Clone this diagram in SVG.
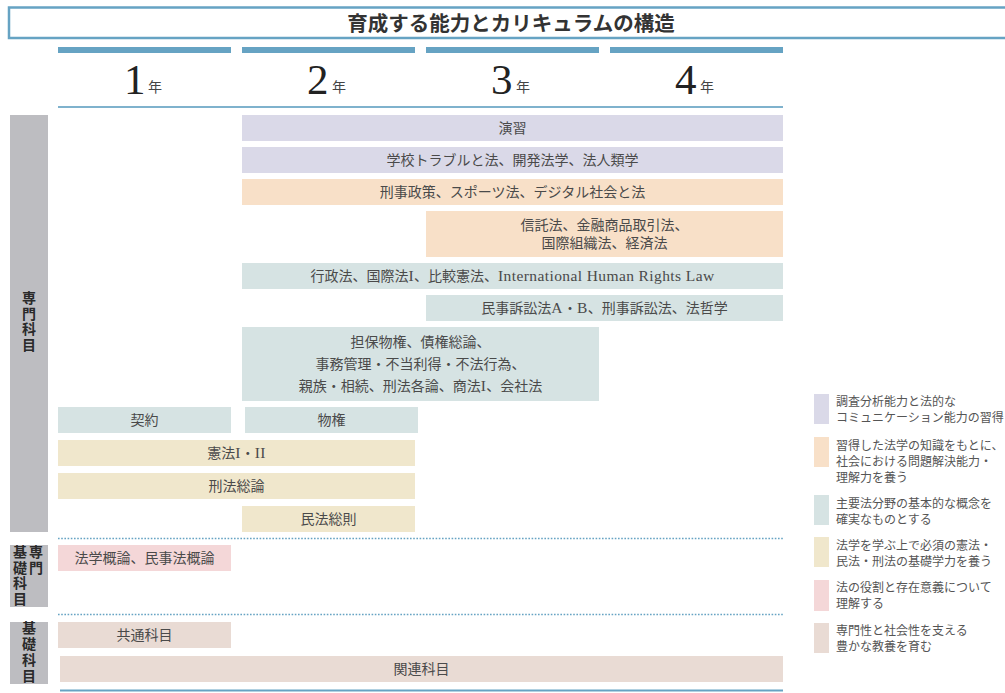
<svg xmlns="http://www.w3.org/2000/svg" width="1005" height="693" viewBox="0 0 1005 693">
<style>
.bg{fill:#ffffff}
.lav{fill:#dad9e8}
.pch{fill:#f8e0c8}
.tea{fill:#d6e3e3}
.bei{fill:#f0e7cc}
.pnk{fill:#f4d7d8}
.tan{fill:#e9dbd4}
.side{fill:#bdbdc1}
.blue{fill:#66a3c3}
.t{font-family:"Noto Sans CJK JP","Noto Sans",sans-serif;font-size:14px;fill:#4a4a4a;text-anchor:middle}
.l{font-family:"Liberation Serif",serif;font-size:15.5px;letter-spacing:0.4px}
.lg{font-family:"Noto Sans CJK JP","Noto Sans",sans-serif;font-size:12px;fill:#555555}
.sl{font-family:"Noto Sans CJK JP","Noto Sans",sans-serif;font-size:14px;font-weight:bold;fill:#2a2a2a;writing-mode:vertical-rl;letter-spacing:1.8px}
.yr{font-family:"Liberation Serif",serif;font-size:43px;fill:#222222}
.nen{font-family:"Noto Sans CJK JP",sans-serif;font-size:14px;fill:#444444}
.dot{stroke:#66a3c3;stroke-width:1.6;stroke-dasharray:1.6 1.6;fill:none}
</style>
<rect class="bg" x="0" y="0" width="1005" height="693"/>

<g id="title">
<rect x="9" y="7.5" width="1000" height="30.5" fill="#ffffff" stroke="#66a3c3" stroke-width="2.5"/>
<text x="511" y="30.5" style="font-family:'Noto Sans CJK JP',sans-serif;font-size:20.5px;font-weight:bold;fill:#333333" text-anchor="middle">育成する能力とカリキュラムの構造</text>
</g>

<g id="years">
<rect class="blue" x="58" y="47" width="173" height="6"/>
<rect class="blue" x="242" y="47" width="173" height="6"/>
<rect class="blue" x="426" y="47" width="173" height="6"/>
<rect class="blue" x="610" y="47" width="173" height="6"/>
<text class="yr" x="124" y="94">1</text><text class="nen" x="148" y="92">年</text>
<text class="yr" x="307" y="94">2</text><text class="nen" x="332" y="92">年</text>
<text class="yr" x="491" y="94">3</text><text class="nen" x="516" y="92">年</text>
<text class="yr" x="675" y="94">4</text><text class="nen" x="700" y="92">年</text>
<rect x="58" y="106" width="725" height="2" fill="#7fb2cd"/>
</g>

<g id="side-labels">
<g id="label-senmon">
<rect class="side" x="10" y="115" width="38" height="417"/>
<text class="sl" x="29" y="290.5">専門科目</text>
</g>
<g id="label-senmon-kiso">
<rect class="side" x="10" y="545" width="38" height="62"/>
<text class="sl" x="36" y="544.5">専門</text>
<text class="sl" x="20" y="544.5">基礎科目</text>
</g>
<g id="label-kiso">
<rect class="side" x="10" y="622" width="38" height="62"/>
<text class="sl" x="29" y="621">基礎科目</text>
</g>
</g>

<g id="connectors">
<line class="dot" x1="58" y1="538.5" x2="784" y2="538.5"/>
<line class="dot" x1="58" y1="614.5" x2="784" y2="614.5"/>
<rect x="60" y="689.5" width="723" height="2" fill="#66a3c3"/>
</g>

<g id="n-enshu"><rect class="lav" x="242" y="115" width="541" height="26"/><text class="t" x="512.5" y="133">演習</text></g>
<g id="n-gakko"><rect class="lav" x="242" y="147" width="541" height="26"/><text class="t" x="512.5" y="165">学校トラブルと法、開発法学、法人類学</text></g>
<g id="n-keiji"><rect class="pch" x="242" y="179" width="541" height="26"/><text class="t" x="512.5" y="197">刑事政策、スポーツ法、デジタル社会と法</text></g>
<g id="n-shintaku"><rect class="pch" x="426" y="211" width="357" height="46"/><text class="t" x="604.5" y="230">信託法、金融商品取引法、</text><text class="t" x="604.5" y="248">国際組織法、経済法</text></g>
<g id="n-gyosei"><rect class="tea" x="242" y="263" width="541" height="26"/><text class="t" x="512.5" y="281">行政法、国際法<tspan class="l">I</tspan>、比較憲法、<tspan class="l">International Human Rights Law</tspan></text></g>
<g id="n-minji"><rect class="tea" x="426" y="295" width="357" height="26"/><text class="t" x="604.5" y="313">民事訴訟法<tspan class="l">A</tspan>・<tspan class="l">B</tspan>、刑事訴訟法、法哲学</text></g>
<g id="n-tanpo"><rect class="tea" x="242" y="327" width="357" height="74"/><text class="t" x="420.5" y="347">担保物権、債権総論、</text><text class="t" x="420.5" y="369">事務管理・不当利得・不法行為、</text><text class="t" x="420.5" y="391">親族・相続、刑法各論、商法<tspan class="l">I</tspan>、会社法</text></g>
<g id="n-keiyaku"><rect class="tea" x="58" y="407" width="173" height="26"/><text class="t" x="144.5" y="425">契約</text></g>
<g id="n-bukken"><rect class="tea" x="245" y="407" width="173" height="26"/><text class="t" x="331.5" y="425">物権</text></g>
<g id="n-kenpo"><rect class="bei" x="58" y="440" width="357" height="26"/><text class="t" x="236.5" y="458">憲法<tspan class="l">I</tspan>・<tspan class="l">II</tspan></text></g>
<g id="n-keiho"><rect class="bei" x="58" y="473" width="357" height="26"/><text class="t" x="236.5" y="491">刑法総論</text></g>
<g id="n-minpo"><rect class="bei" x="242" y="506" width="173" height="26"/><text class="t" x="328.5" y="524">民法総則</text></g>
<g id="n-hogaku"><rect class="pnk" x="58" y="545" width="173" height="26"/><text class="t" x="144.5" y="563">法学概論、民事法概論</text></g>
<g id="n-kyotsu"><rect class="tan" x="58" y="622" width="173" height="26"/><text class="t" x="144.5" y="640">共通科目</text></g>
<g id="n-kanren"><rect class="tan" x="60" y="656" width="723" height="26"/><text class="t" x="421.5" y="674">関連科目</text></g>

<g id="legend">
<g id="lg1"><rect class="lav" x="814" y="394" width="15" height="30"/><text class="lg" x="836" y="406">調査分析能力と法的な</text><text class="lg" x="836" y="422">コミュニケーション能力の習得</text></g>
<g id="lg2"><rect class="pch" x="814" y="437" width="15" height="30"/><text class="lg" x="836" y="450">習得した法学の知識をもとに、</text><text class="lg" x="836" y="466">社会における問題解決能力・</text><text class="lg" x="836" y="482">理解力を養う</text></g>
<g id="lg3"><rect class="tea" x="814" y="495" width="15" height="30"/><text class="lg" x="836" y="508">主要法分野の基本的な概念を</text><text class="lg" x="836" y="524">確実なものとする</text></g>
<g id="lg4"><rect class="bei" x="814" y="537" width="15" height="30"/><text class="lg" x="836" y="550">法学を学ぶ上で必須の憲法・</text><text class="lg" x="836" y="566">民法・刑法の基礎学力を養う</text></g>
<g id="lg5"><rect class="pnk" x="814" y="580" width="15" height="31"/><text class="lg" x="836" y="592">法の役割と存在意義について</text><text class="lg" x="836" y="608">理解する</text></g>
<g id="lg6"><rect class="tan" x="814" y="623" width="15" height="30"/><text class="lg" x="836" y="635">専門性と社会性を支える</text><text class="lg" x="836" y="651">豊かな教養を育む</text></g>
</g>
</svg>
